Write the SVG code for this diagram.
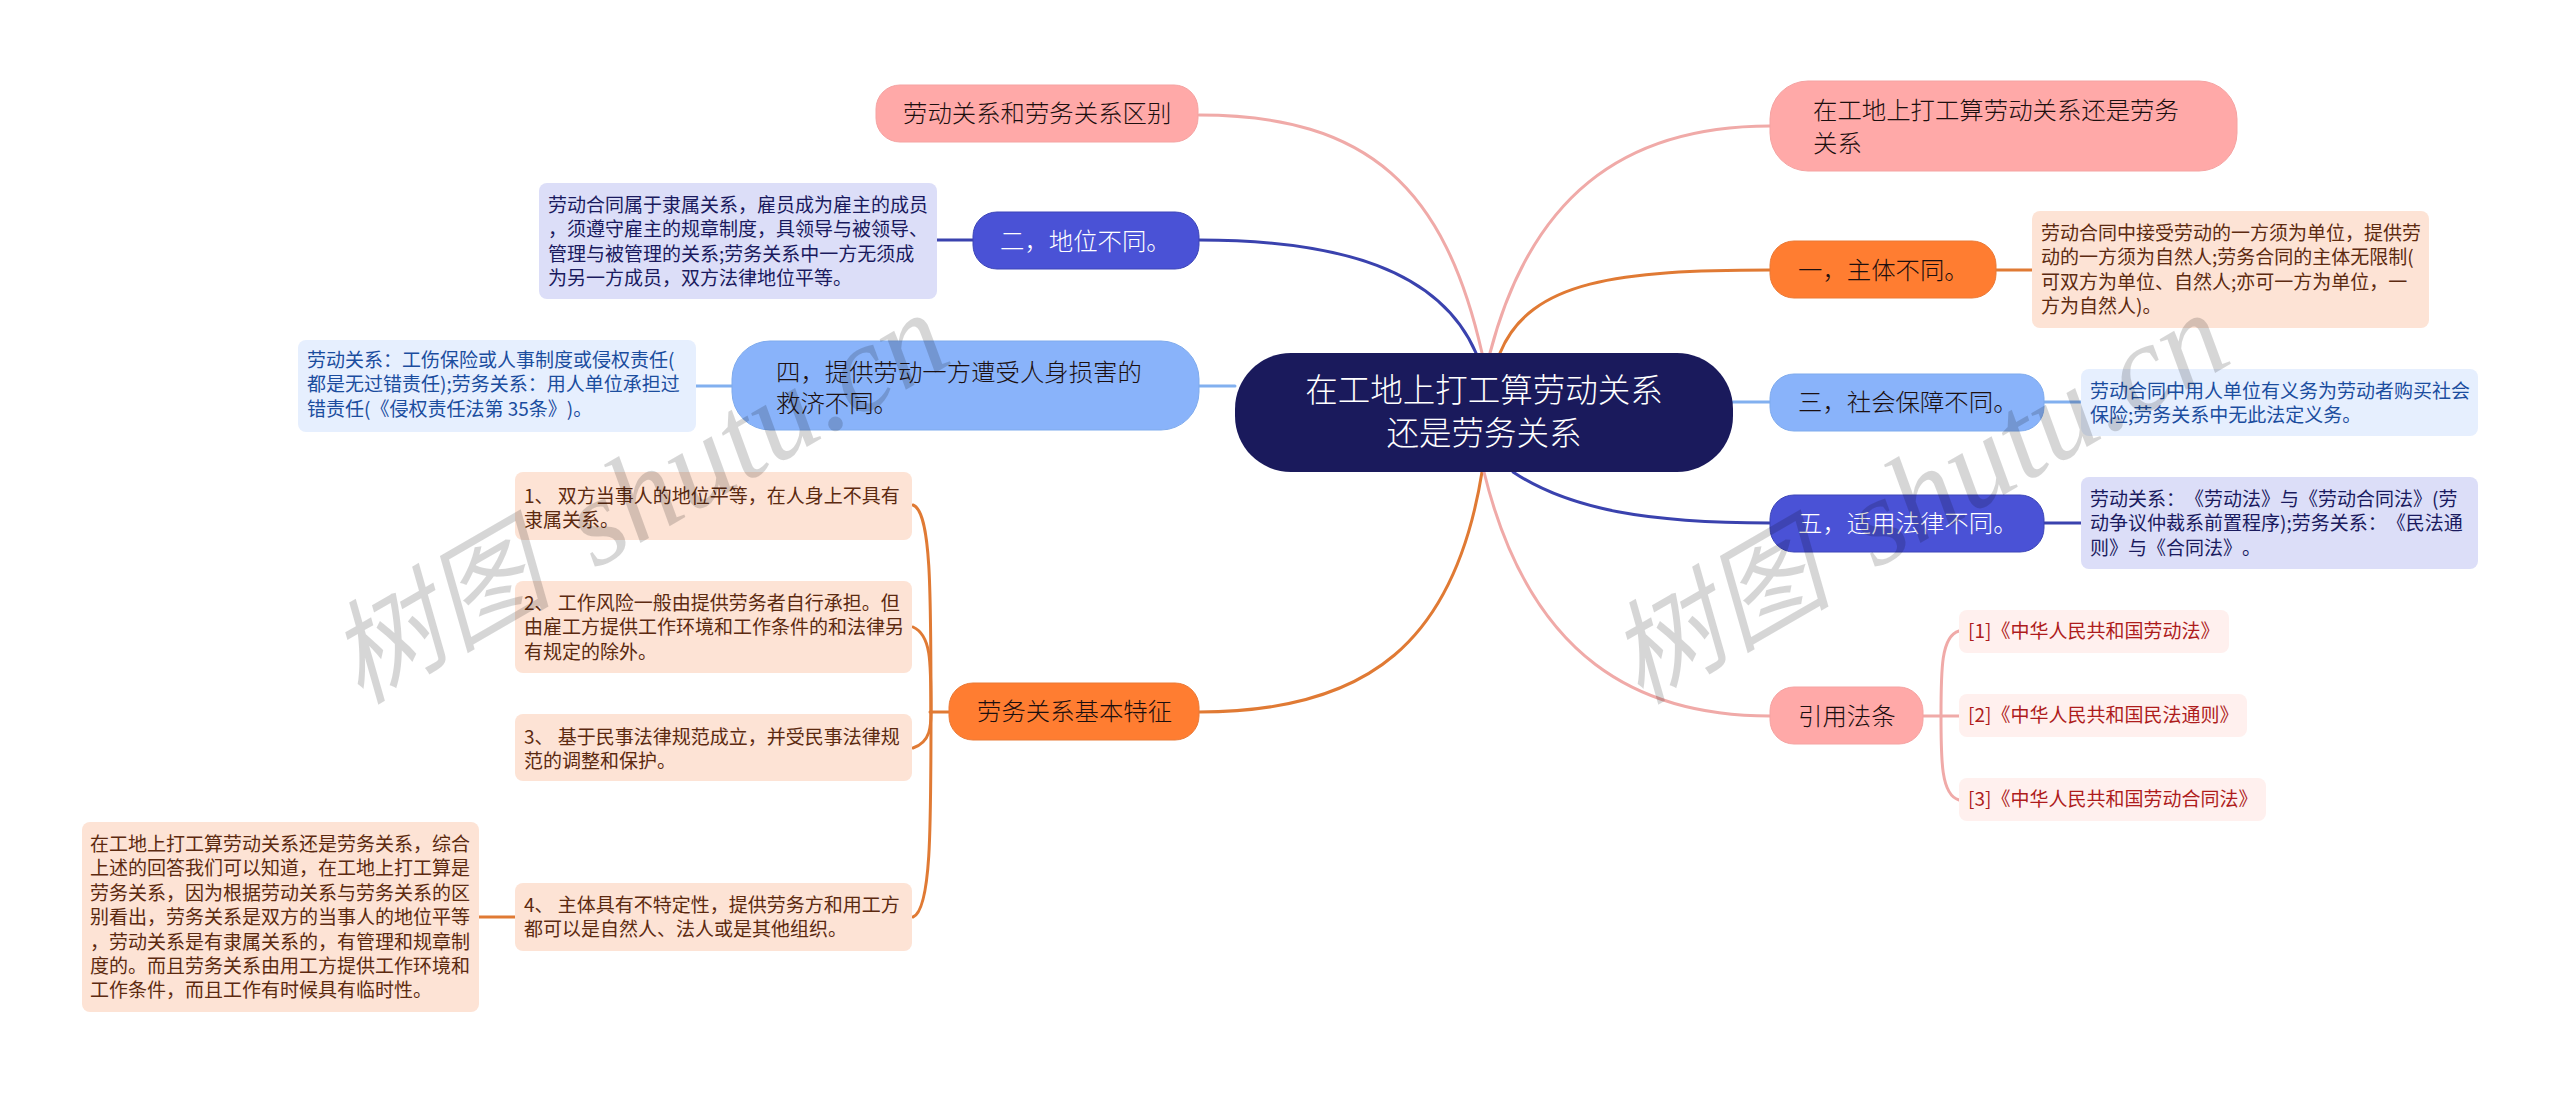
<svg xmlns="http://www.w3.org/2000/svg" width="2560" height="1093" viewBox="0 0 2560 1093">
<style>
text{font-family:"Noto Sans CJK SC","Noto Sans",sans-serif;text-spacing-trim:space-all;font-weight:300}
.c{font-size:32.5px;fill:#fff;text-anchor:middle}
.b{font-size:24.4px;fill:#1c0f0f}
.w{fill:#fff}
.l{font-size:19px;font-weight:400}
.pk{fill:#ffa9a8;stroke:#f5a3a2;stroke-width:1}
.or{fill:#ff7d31;stroke:#ea7a37;stroke-width:1}
.lb{fill:#89b3fa;stroke:#7fabed;stroke-width:1}
.bl{fill:#4a52d6;stroke:#3c45b8;stroke-width:1}
.lp{fill:#fde3d5}.lp+text{fill:#5c2a10}
.ll{fill:#e6effe}.ll+text{fill:#1b4d9e}
.lv{fill:#dcdef8}.lv+text{fill:#1a1a5e}
.lr{fill:#fff0ee}.lr+text{fill:#ae1c1c}
#connectors path{fill:none;stroke-width:3;stroke-linecap:round}
.sp{stroke:#f0aaa8}.so{stroke:#e07a34}.sb{stroke:#3a42ae}.sl{stroke:#82b0ef}
.wm{font-size:112px;fill:#000;fill-opacity:.16;font-style:italic;font-weight:400}
.wm2{font-family:"Liberation Serif",serif;font-size:124px}
</style>
<g id="connectors">
<path class="sp" d="M1199,115C1370,115 1445,190 1482,353"/>
<path class="sb" d="M1199,240C1340,240 1440,270 1476,353"/>
<path class="sp" d="M1770,126C1620,126 1530,200 1490,353"/>
<path class="so" d="M1770,270C1620,270 1530,280 1500,353"/>
<path class="sb" d="M1770,523C1650,523 1570,510 1513,472"/>
<path class="so" d="M1199,712C1370,712 1455,640 1482,472"/>
<path class="sp" d="M1770,716C1640,716 1530,660 1484,472"/>
<path class="sl" d="M1199,386H1235"/>
<path class="sl" d="M1733,402H1770"/>
<path class="sb" d="M937,240H973"/>
<path class="sl" d="M696,386H732"/>
<path class="so" d="M1996,270H2032"/>
<path class="sl" d="M2044,402H2081"/>
<path class="sb" d="M2044,523H2081"/>
<path class="so" d="M930,712H949"/>
<path class="so" d="M479,917H515"/>
<path class="so" d="M931,712C931,590 931,512 913,505"/>
<path class="so" d="M931,712C931,660 931,635 913,627"/>
<path class="so" d="M931,712C931,725 931,742 913,748"/>
<path class="so" d="M931,712C931,830 931,910 913,917"/>
<path class="sp" d="M1923,716H1959"/>
<path class="sp" d="M1941,716C1941,670 1941,636 1959,631"/>
<path class="sp" d="M1941,716C1941,760 1941,795 1959,800"/>
</g>
<g id="center"><rect x="1235" y="353" width="498" height="119" rx="56" fill="#1a1a5c"/>
<text class="c" x="1484" y="402">在工地上打工算劳动关系</text><text class="c" x="1484" y="445">还是劳务关系</text></g>
<g id="n1"><rect class="pk" x="876" y="85" width="322" height="57" rx="24"/><text class="b" x="903" y="122">劳动关系和劳务关系区别</text></g>
<g id="n2"><rect class="bl" x="973" y="212" width="226" height="57" rx="24"/><text class="b w" x="1000" y="250">二，地位不同。</text></g>
<g id="n2a"><rect class="lv" x="539" y="183" width="398" height="116" rx="8"/><text class="l"><tspan x="548" y="212">劳动合同属于隶属关系，雇员成为雇主的成员</tspan><tspan x="548" y="236.4">，须遵守雇主的规章制度，具领导与被领导、</tspan><tspan x="548" y="260.8">管理与被管理的关系;劳务关系中一方无须成</tspan><tspan x="548" y="285.2">为另一方成员，双方法律地位平等。</tspan></text></g>
<g id="n4"><rect class="lb" x="732" y="341" width="467" height="89" rx="38"/><text class="b"><tspan x="776" y="381">四，提供劳动一方遭受人身损害的</tspan><tspan x="776" y="412">救济不同。</tspan></text></g>
<g id="n4a"><rect class="ll" x="298" y="340" width="398" height="92" rx="8"/><text class="l"><tspan x="307" y="367">劳动关系：工伤保险或人事制度或侵权责任(</tspan><tspan x="307" y="391.4">都是无过错责任);劳务关系：用人单位承担过</tspan><tspan x="307" y="415.8">错责任(《侵权责任法第 35条》)。</tspan></text></g>
<g id="n6"><rect class="or" x="949" y="683" width="250" height="57" rx="24"/><text class="b" x="977" y="720">劳务关系基本特征</text></g>
<g id="n6a"><rect class="lp" x="515" y="472" width="397" height="68" rx="8"/><text class="l"><tspan x="524" y="503">1、 双方当事人的地位平等，在人身上不具有</tspan><tspan x="524" y="527.4">隶属关系。</tspan></text></g>
<g id="n6b"><rect class="lp" x="515" y="581" width="397" height="92" rx="8"/><text class="l"><tspan x="524" y="610">2、 工作风险一般由提供劳务者自行承担。但</tspan><tspan x="524" y="634.4">由雇工方提供工作环境和工作条件的和法律另</tspan><tspan x="524" y="658.8">有规定的除外。</tspan></text></g>
<g id="n6c"><rect class="lp" x="515" y="714" width="397" height="67" rx="8"/><text class="l"><tspan x="524" y="744">3、 基于民事法律规范成立，并受民事法律规</tspan><tspan x="524" y="768.4">范的调整和保护。</tspan></text></g>
<g id="n6d"><rect class="lp" x="515" y="883" width="397" height="68" rx="8"/><text class="l"><tspan x="524" y="912">4、 主体具有不特定性，提供劳务方和用工方</tspan><tspan x="524" y="936.4">都可以是自然人、法人或是其他组织。</tspan></text></g>
<g id="n6e"><rect class="lp" x="82" y="822" width="397" height="190" rx="8"/><text class="l"><tspan x="90" y="851">在工地上打工算劳动关系还是劳务关系，综合</tspan><tspan x="90" y="875.4">上述的回答我们可以知道，在工地上打工算是</tspan><tspan x="90" y="899.8">劳务关系，因为根据劳动关系与劳务关系的区</tspan><tspan x="90" y="924.2">别看出，劳务关系是双方的当事人的地位平等</tspan><tspan x="90" y="948.6">，劳动关系是有隶属关系的，有管理和规章制</tspan><tspan x="90" y="973">度的。而且劳务关系由用工方提供工作环境和</tspan><tspan x="90" y="997.4">工作条件，而且工作有时候具有临时性。</tspan></text></g>
<g id="r0"><rect class="pk" x="1770" y="81" width="467" height="90" rx="38"/><text class="b"><tspan x="1813" y="119">在工地上打工算劳动关系还是劳务</tspan><tspan x="1813" y="152">关系</tspan></text></g>
<g id="r1"><rect class="or" x="1770" y="241" width="226" height="57" rx="24"/><text class="b" x="1798" y="279">一，主体不同。</text></g>
<g id="r1a"><rect class="lp" x="2032" y="211" width="397" height="117" rx="8"/><text class="l"><tspan x="2041" y="240">劳动合同中接受劳动的一方须为单位，提供劳</tspan><tspan x="2041" y="264.4">动的一方须为自然人;劳务合同的主体无限制(</tspan><tspan x="2041" y="288.8">可双方为单位、自然人;亦可一方为单位，一</tspan><tspan x="2041" y="313.2">方为自然人)。</tspan></text></g>
<g id="r3"><rect class="lb" x="1770" y="374" width="274" height="57" rx="24"/><text class="b" x="1798" y="411">三，社会保障不同。</text></g>
<g id="r3a"><rect class="ll" x="2081" y="369" width="397" height="67" rx="8"/><text class="l"><tspan x="2090" y="398">劳动合同中用人单位有义务为劳动者购买社会</tspan><tspan x="2090" y="422.4">保险;劳务关系中无此法定义务。</tspan></text></g>
<g id="r5"><rect class="bl" x="1770" y="495" width="274" height="57" rx="24"/><text class="b w" x="1798" y="532">五，适用法律不同。</text></g>
<g id="r5a"><rect class="lv" x="2081" y="477" width="397" height="92" rx="8"/><text class="l"><tspan x="2090" y="506">劳动关系：《劳动法》与《劳动合同法》(劳</tspan><tspan x="2090" y="530.4">动争议仲裁系前置程序);劳务关系：《民法通</tspan><tspan x="2090" y="554.8">则》与《合同法》。</tspan></text></g>
<g id="r6"><rect class="pk" x="1770" y="687" width="153" height="57" rx="24"/><text class="b" x="1798" y="725">引用法条</text></g>
<g id="r6a"><rect class="lr" x="1959" y="610" width="270" height="43" rx="8"/><text class="l" x="1968" y="638">[1]《中华人民共和国劳动法》</text></g>
<g id="r6b"><rect class="lr" x="1959" y="694" width="288" height="43" rx="8"/><text class="l" x="1968" y="722">[2]《中华人民共和国民法通则》</text></g>
<g id="r6c"><rect class="lr" x="1959" y="778" width="307" height="43" rx="8"/><text class="l" x="1968" y="806">[3]《中华人民共和国劳动合同法》</text></g>
<g id="watermark">
<text class="wm" transform="translate(360,705) rotate(-30)">树图 <tspan class="wm2" dx="22">shutu.cn</tspan></text>
<text class="wm" transform="translate(1640,705) rotate(-30)">树图 <tspan class="wm2" dx="22">shutu.cn</tspan></text>
</g>
</svg>
